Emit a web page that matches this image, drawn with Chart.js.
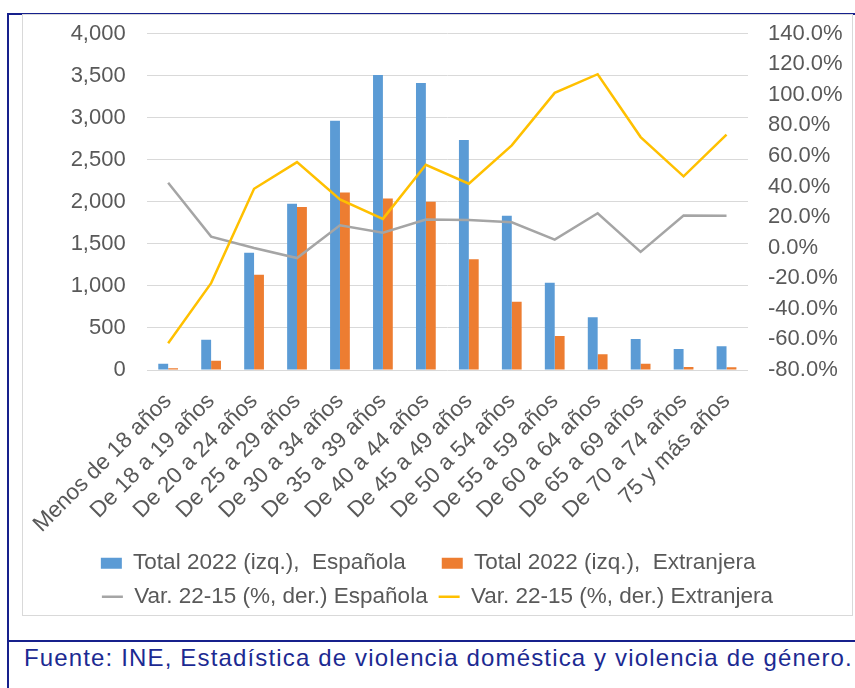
<!DOCTYPE html>
<html lang="es">
<head>
<meta charset="utf-8">
<title>Violencia doméstica por edad y nacionalidad</title>
<script src="https://cdn.jsdelivr.net/npm/chart.js@4.4.1/dist/chart.umd.min.js"></script>
<style>
    html, body { margin: 0; padding: 0; background: #ffffff; }
    body { width: 855px; height: 688px; position: relative; overflow: hidden; font-family: 'Liberation Sans', Arial, sans-serif; }
    .frame-top { position: absolute; left: 7px; top: 13px; width: 848px; height: 2px; background: #16208c; }
    .frame-left { position: absolute; left: 7px; top: 13px; width: 2px; height: 675px; background: #16208c; }
    .frame-sep { position: absolute; left: 7px; top: 640px; width: 848px; height: 2px; background: #16208c; }
    .chart-wrap { position: absolute; left: 23px; top: 15px; width: 829px; height: 610px; }
    .chart-border { position: absolute; left: 22px; top: 14px; width: 831px; height: 602px; border: 1px solid #d9d9d9; box-sizing: border-box; pointer-events: none; }
    .fuente { position: absolute; left: 24px; top: 644px; font-size: 24px; letter-spacing: 1.15px; color: #1c2a92; white-space: nowrap; }
</style>
</head>
<body>
<div class="frame-top"></div>
<div class="frame-left"></div>
<div class="frame-sep"></div>
<div class="chart-wrap"><canvas id="edadChart"></canvas></div>
<div class="chart-border"></div>
<div class="fuente">Fuente: INE, Estadística de violencia doméstica y violencia de género.</div>

<script>
// Datos
const edades = [
    'Menos de 18 años', 'De 18 a 19 años', 'De 20 a 24 años', 'De 25 a 29 años',
    'De 30 a 34 años', 'De 35 a 39 años', 'De 40 a 44 años', 'De 45 a 49 años',
    'De 50 a 54 años', 'De 55 a 59 años', 'De 60 a 64 años', 'De 65 a 69 años',
    'De 70 a 74 años', '75 y más años'
];
const totalEspanola = [75, 361, 1393, 1976, 2964, 3508, 3413, 2734, 1833, 1036, 627, 369, 250, 282];
const totalExtranjera = [20, 111, 1131, 1937, 2111, 2040, 2000, 1317, 810, 405, 187, 75, 36, 32];
const varEspanola = [42.4, 7.2, -0.2, -6.8, 14.6, 9.8, 18.4, 18.1, 16.6, 5.2, 22.5, -2.8, 21.0, 20.8];
const varExtranjera = [-62.5, -23.2, 38.5, 55.9, 31.5, 18.8, 54.2, 41.8, 66.9, 101.2, 113.4, 72.3, 46.6, 73.9];

const leftTicks = { min: 0, max: 4000, step: 500 };
const rightTicks = { min: -80, max: 140, step: 20 };

// espacios extra para imitar la rejilla de la leyenda de Excel
const legendPad = ['    ', '   ', '', ''];

Chart.defaults.font.family = "'Liberation Sans', Arial, sans-serif";
Chart.defaults.color = '#595959';

const ctx = document.getElementById('edadChart').getContext('2d');

new Chart(ctx, {
    type: 'bar',
    data: {
        labels: edades,
        datasets: [
            {
                label: 'Total 2022 (izq.),  Española',
                data: totalEspanola,
                backgroundColor: '#5b9bd5',
                yAxisID: 'y',
                order: 2,
                barPercentage: 1,
                categoryPercentage: 0.46
            },
            {
                label: 'Total 2022 (izq.),  Extranjera',
                data: totalExtranjera,
                backgroundColor: '#ed7d31',
                yAxisID: 'y',
                order: 2,
                barPercentage: 1,
                categoryPercentage: 0.46
            },
            {
                type: 'line',
                label: 'Var. 22-15 (%, der.) Española',
                data: varEspanola,
                borderColor: '#a5a5a5',
                backgroundColor: '#a5a5a5',
                borderWidth: 2.5,
                pointRadius: 0,
                tension: 0,
                yAxisID: 'y1',
                order: 1
            },
            {
                type: 'line',
                label: 'Var. 22-15 (%, der.) Extranjera',
                data: varExtranjera,
                borderColor: '#ffc000',
                backgroundColor: '#ffc000',
                borderWidth: 2.5,
                pointRadius: 0,
                tension: 0,
                yAxisID: 'y1',
                order: 0
            }
        ]
    },
    options: {
        responsive: true,
        maintainAspectRatio: false,
        animation: false,
        layout: {
            padding: { top: 18.5, right: 0, bottom: 7, left: 0 }
        },
        scales: {
            x: {
                grid: { display: false },
                border: { display: false },
                ticks: {
                    minRotation: 45,
                    maxRotation: 45,
                    autoSkip: false,
                    padding: 10,
                    color: '#595959',
                    font: { size: 22.5 }
                },
                afterFit: scale => { scale.height -= 7; }
            },
            y: {
                position: 'left',
                min: leftTicks.min,
                max: leftTicks.max,
                grid: { color: '#d9d9d9', drawTicks: true, tickLength: 18, tickColor: 'transparent' },
                border: { display: false },
                ticks: {
                    stepSize: leftTicks.step,
                    autoSkip: false,
                    padding: 3,
                    color: '#595959',
                    font: { size: 22 },
                    callback: v => v.toLocaleString('en-US')
                },
                afterFit: scale => { scale.width = 119; }
            },
            y1: {
                position: 'right',
                min: rightTicks.min,
                max: rightTicks.max,
                grid: { drawOnChartArea: false, drawTicks: true, tickLength: 17, tickColor: 'transparent' },
                border: { display: false },
                ticks: {
                    stepSize: rightTicks.step,
                    autoSkip: false,
                    padding: 3,
                    color: '#595959',
                    font: { size: 22 },
                    callback: v => v.toFixed(1) + '%'
                },
                afterFit: scale => { scale.width = 104; }
            }
        },
        plugins: {
            tooltip: { enabled: false },
            legend: {
                position: 'bottom',
                labels: {
                    usePointStyle: true,
                    pointStyleWidth: 21,
                    boxHeight: 11,
                    padding: 11,
                    color: '#595959',
                    font: { size: 22.5 },
                    sort: (a, b) => a.datasetIndex - b.datasetIndex,
                    generateLabels: function(chart) {
                        const items = Chart.defaults.plugins.legend.labels.generateLabels(chart);
                        items.forEach(item => {
                            const ds = chart.data.datasets[item.datasetIndex];
                            item.pointStyle = ds.type === 'line' ? 'line' : 'rect';
                            item.lineWidth = ds.type === 'line' ? 2.5 : 0;
                            item.strokeStyle = ds.borderColor || ds.backgroundColor;
                            item.text = item.text + legendPad[item.datasetIndex];
                        });
                        return items;
                    }
                }
            }
        }
    }
});
</script>
</body>
</html>
